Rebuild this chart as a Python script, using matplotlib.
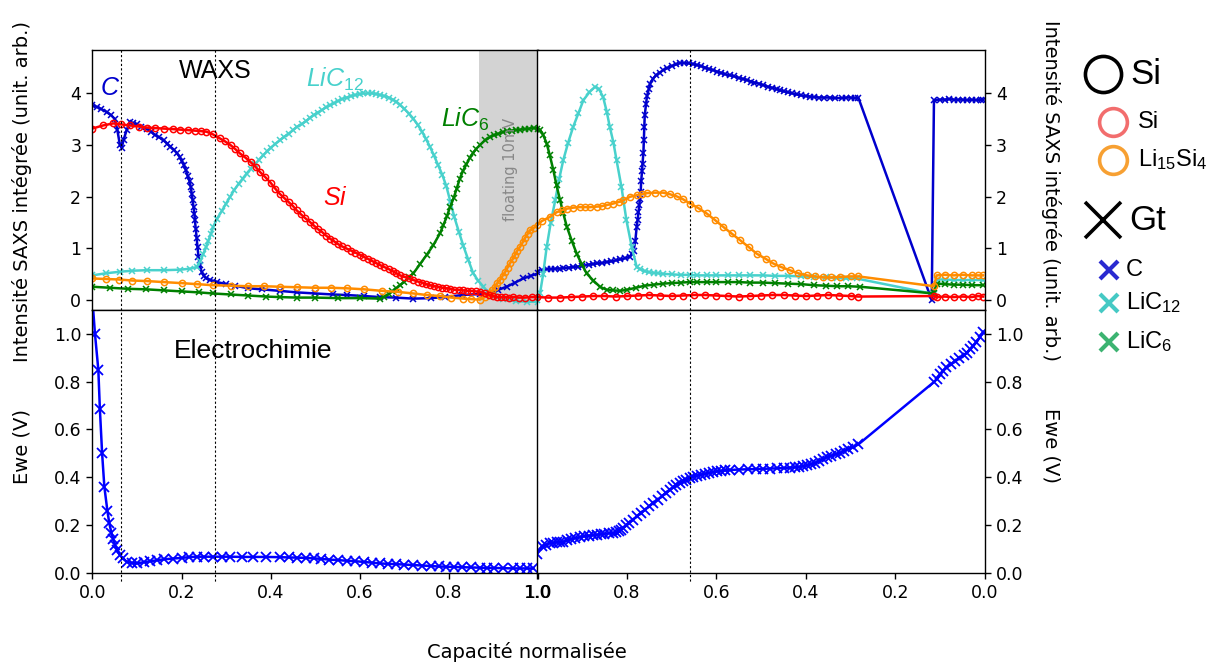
import matplotlib
matplotlib.use("Agg")
import matplotlib.pyplot as plt
from matplotlib.lines import Line2D
from matplotlib import transforms

plt.rcParams['font.family'] = 'DejaVu Sans'
plt.rcParams['mathtext.fontset'] = 'custom'
plt.rcParams['mathtext.rm'] = 'Liberation Sans'
plt.rcParams['mathtext.it'] = 'Liberation Sans:italic'

W, H = 1226, 662

# ---------------- WAXS, decharge (capacite 0 -> 1)
c_dis_x = [0, 0.01, 0.02, 0.032, 0.042, 0.05, 0.056, 0.062, 0.066, 0.07, 0.077, 0.084, 0.092,
           0.1, 0.11, 0.122, 0.132, 0.14, 0.15, 0.16, 0.168, 0.175, 0.183, 0.19, 0.196, 0.2,
           0.205, 0.21, 0.214, 0.218, 0.221, 0.223, 0.225, 0.227, 0.229, 0.23, 0.232, 0.234,
           0.236, 0.238, 0.241, 0.245, 0.25, 0.256, 0.265, 0.28, 0.3, 0.32, 0.35, 0.38, 0.42,
           0.46, 0.5, 0.54, 0.57, 0.61, 0.645, 0.68, 0.72, 0.76, 0.79, 0.83, 0.87, 0.892,
           0.91, 0.929, 0.948, 0.966, 0.983, 1.0]
c_dis_y = [3.77, 3.74, 3.7, 3.64, 3.58, 3.51, 3.3, 3.0, 2.95, 3.1, 3.29, 3.45, 3.42,
           3.4, 3.36, 3.32, 3.26, 3.2, 3.15, 3.09, 3.03, 2.97, 2.91, 2.84, 2.77, 2.7,
           2.62, 2.51, 2.4, 2.3, 2.18, 2.06, 1.93, 1.8, 1.67, 1.55, 1.38, 1.2,
           1.02, 0.84, 0.68, 0.55, 0.47, 0.42, 0.39, 0.35, 0.31, 0.28, 0.23, 0.21, 0.18,
           0.15, 0.13, 0.11, 0.1, 0.08, 0.06, 0.05, 0.03, 0.04, 0.06, 0.1, 0.12, 0.13,
           0.2, 0.26, 0.34, 0.42, 0.47, 0.52]

lic12_dis_x = [0, 0.03, 0.062, 0.09, 0.122, 0.16, 0.197, 0.22, 0.234, 0.242, 0.249, 0.255,
               0.26, 0.266, 0.271, 0.28, 0.29, 0.3, 0.309, 0.318, 0.328, 0.337, 0.346, 0.355,
               0.365, 0.374, 0.383, 0.392, 0.4, 0.41, 0.42, 0.43, 0.44, 0.45, 0.458, 0.47,
               0.48, 0.488, 0.496, 0.505, 0.515, 0.524, 0.533, 0.542, 0.55, 0.56, 0.57, 0.58,
               0.59, 0.6, 0.608, 0.618, 0.627, 0.636, 0.645, 0.655, 0.665, 0.674, 0.682,
               0.69, 0.7, 0.71, 0.72, 0.73, 0.74, 0.748, 0.757, 0.766, 0.775, 0.785, 0.794,
               0.803, 0.812, 0.822, 0.832, 0.843, 0.854, 0.865, 0.877, 0.888, 0.9, 0.92,
               0.95, 0.975, 1.0]
lic12_dis_y = [0.48, 0.52, 0.55, 0.57, 0.58, 0.58, 0.59, 0.61, 0.64, 0.75, 0.9, 1.02,
               1.15, 1.28, 1.42, 1.58, 1.72, 1.87, 2.0, 2.13, 2.25, 2.35, 2.45, 2.54,
               2.63, 2.72, 2.8, 2.88, 2.95, 3.02, 3.09, 3.16, 3.22, 3.29, 3.35, 3.41,
               3.47, 3.53, 3.58, 3.63, 3.68, 3.73, 3.77, 3.81, 3.85, 3.89, 3.92, 3.95,
               3.97, 3.99, 4.0, 4.0, 4.0, 3.99, 3.97, 3.95, 3.92, 3.88, 3.84,
               3.78, 3.7, 3.61, 3.51, 3.39, 3.25, 3.12, 2.97, 2.8, 2.62, 2.42, 2.2,
               1.9, 1.6, 1.32, 1.05, 0.78, 0.52, 0.38, 0.26, 0.15, 0.08, 0.02,
               -0.02, -0.03, -0.03]

lic6_dis_x = [0, 0.04, 0.08, 0.12, 0.16, 0.2, 0.24, 0.27, 0.31, 0.35, 0.39, 0.42, 0.46, 0.5,
              0.55, 0.6, 0.645, 0.655, 0.665, 0.673, 0.682, 0.69, 0.7, 0.71, 0.72, 0.735,
              0.75, 0.765, 0.78, 0.787, 0.795, 0.802, 0.81, 0.817, 0.824, 0.831, 0.839, 0.846,
              0.854, 0.861, 0.869, 0.88, 0.892, 0.9, 0.91, 0.92, 0.929, 0.94, 0.95, 0.96,
              0.97, 0.98, 0.99, 1.0]
lic6_dis_y = [0.26, 0.24, 0.22, 0.21, 0.19, 0.17, 0.15, 0.13, 0.11, 0.09, 0.07, 0.06, 0.05,
              0.05, 0.04, 0.04, 0.03, 0.07, 0.12, 0.17, 0.23, 0.29, 0.36, 0.44, 0.52, 0.7,
              0.88, 1.07, 1.3, 1.45, 1.62, 1.8, 1.97, 2.16, 2.35, 2.5, 2.63, 2.75,
              2.85, 2.93, 3.0, 3.09, 3.16, 3.19, 3.22, 3.25, 3.27, 3.28, 3.29, 3.3,
              3.31, 3.32, 3.33, 3.32]

si_dis_x = [0, 0.024, 0.047, 0.065, 0.085, 0.104, 0.122, 0.14, 0.16, 0.18, 0.197, 0.215,
            0.23, 0.244, 0.256, 0.27, 0.286, 0.298, 0.31, 0.321, 0.331, 0.343, 0.355, 0.366,
            0.376, 0.388, 0.4, 0.41, 0.42, 0.43, 0.44, 0.45, 0.458, 0.468, 0.477, 0.487,
            0.496, 0.505, 0.515, 0.524, 0.533, 0.542, 0.55, 0.56, 0.57, 0.58, 0.59, 0.6,
            0.608, 0.618, 0.627, 0.636, 0.645, 0.655, 0.665, 0.674, 0.682, 0.69, 0.7, 0.71,
            0.72, 0.73, 0.74, 0.748, 0.757, 0.766, 0.775, 0.785, 0.794, 0.803, 0.812, 0.822,
            0.832, 0.841, 0.85, 0.86, 0.869, 0.88, 0.89, 0.898, 0.907, 0.916, 0.925, 0.935,
            0.944, 0.957, 0.97, 0.985, 1.0]
si_dis_y = [3.32, 3.38, 3.42, 3.4, 3.38, 3.36, 3.34, 3.33, 3.32, 3.31, 3.3, 3.29,
            3.28, 3.27, 3.26, 3.21, 3.13, 3.07, 3.0, 2.92, 2.84, 2.76, 2.67, 2.58,
            2.48, 2.38, 2.27, 2.16, 2.06, 1.98, 1.9, 1.82, 1.74, 1.66, 1.59, 1.52,
            1.45, 1.38, 1.32, 1.25, 1.19, 1.14, 1.09, 1.04, 1.0, 0.96, 0.92, 0.88,
            0.84, 0.8, 0.76, 0.72, 0.68, 0.64, 0.6, 0.56, 0.52, 0.48, 0.45, 0.42,
            0.39, 0.36, 0.34, 0.31, 0.29, 0.27, 0.26, 0.24, 0.23, 0.22, 0.2, 0.2,
            0.19, 0.18, 0.18, 0.17, 0.16, 0.13, 0.1, 0.08, 0.06, 0.06, 0.06, 0.05,
            0.06, 0.05, 0.05, 0.06, 0.06]

li15_dis_x = [0, 0.03, 0.06, 0.09, 0.122, 0.16, 0.2, 0.235, 0.27, 0.31, 0.35, 0.385, 0.42,
              0.46, 0.5, 0.535, 0.57, 0.61, 0.65, 0.685, 0.72, 0.75, 0.78, 0.805, 0.832,
              0.85, 0.869, 0.88, 0.892, 0.897, 0.903, 0.908, 0.914, 0.92, 0.926, 0.931,
              0.937, 0.943, 0.948, 0.953, 0.959, 0.965, 0.97, 0.976, 0.981, 0.99, 1.0]
li15_dis_y = [0.42, 0.41, 0.4, 0.38, 0.37, 0.35, 0.33, 0.31, 0.29, 0.28, 0.27, 0.27, 0.26,
              0.25, 0.24, 0.24, 0.23, 0.21, 0.18, 0.16, 0.13, 0.1, 0.08, 0.05, 0.03,
              0.02, 0.01, 0.06, 0.13, 0.19, 0.26, 0.33, 0.39, 0.47, 0.55, 0.63,
              0.72, 0.8, 0.88, 0.96, 1.03, 1.12, 1.2, 1.28, 1.35, 1.4, 1.45]

# ---------------- WAXS, charge (capacite 1 -> 0)
c_ch_x = [1.0, 0.99, 0.979, 0.97, 0.96, 0.95, 0.942, 0.93, 0.92, 0.91, 0.9, 0.885, 0.875,
          0.867, 0.855, 0.845, 0.835, 0.825, 0.815, 0.805, 0.793, 0.789, 0.785, 0.781, 0.778,
          0.776, 0.774, 0.772, 0.771, 0.769, 0.768, 0.766, 0.765, 0.763, 0.762, 0.761, 0.76,
          0.757, 0.755, 0.751, 0.748, 0.742, 0.735, 0.727, 0.719, 0.71, 0.7, 0.69, 0.681,
          0.672, 0.662, 0.653, 0.644, 0.635, 0.625, 0.616, 0.607, 0.598, 0.59, 0.58, 0.57,
          0.56, 0.55, 0.54, 0.532, 0.523, 0.515, 0.505, 0.495, 0.485, 0.475, 0.465, 0.458,
          0.45, 0.44, 0.43, 0.421, 0.41, 0.4, 0.39, 0.383, 0.37, 0.36, 0.346, 0.335, 0.32,
          0.31, 0.3, 0.29, 0.283, 0.119, 0.114, 0.1, 0.09, 0.08, 0.07, 0.06, 0.05, 0.04,
          0.03, 0.02, 0.01, 0.004]
c_ch_y = [0.55, 0.58, 0.6, 0.6, 0.61, 0.61, 0.62, 0.63, 0.64, 0.65, 0.66, 0.69, 0.7,
          0.71, 0.72, 0.74, 0.75, 0.77, 0.79, 0.81, 0.84, 0.9, 0.95, 1.15, 1.42,
          1.55, 1.7, 1.85, 1.95, 2.1, 2.3, 2.5, 2.64, 2.85, 3.1, 3.35, 3.58,
          3.8, 3.95, 4.08, 4.19, 4.28, 4.35, 4.4, 4.45, 4.49, 4.53, 4.56, 4.59,
          4.59, 4.58, 4.57, 4.55, 4.53, 4.5, 4.47, 4.45, 4.42, 4.4, 4.37, 4.35,
          4.33, 4.3, 4.28, 4.26, 4.23, 4.21, 4.19, 4.16, 4.13, 4.11, 4.08, 4.06,
          4.04, 4.02, 4.0, 3.98, 3.96, 3.95, 3.94, 3.93, 3.92, 3.92, 3.92, 3.91, 3.91,
          3.92, 3.92, 3.91, 3.92, 0.0, 3.87, 3.88, 3.88, 3.89, 3.88, 3.88, 3.88, 3.87,
          3.88, 3.87, 3.88, 3.88]

lic12_ch_x = [1.0, 0.994, 0.987, 0.979, 0.97, 0.96, 0.951, 0.942, 0.931, 0.92, 0.908, 0.897,
              0.884, 0.871, 0.862, 0.853, 0.845, 0.838, 0.83, 0.823, 0.812, 0.801, 0.789,
              0.778, 0.77, 0.76, 0.75, 0.74, 0.73, 0.719, 0.7, 0.68, 0.66, 0.644, 0.62, 0.6,
              0.575, 0.55, 0.525, 0.495, 0.47, 0.44, 0.41, 0.383, 0.355, 0.33, 0.31, 0.287,
              0.115, 0.108, 0.09, 0.07, 0.05, 0.03, 0.004]
lic12_ch_y = [0.0, 0.13, 0.5, 1.03, 1.5, 1.93, 2.35, 2.71, 3.05, 3.35, 3.62, 3.87,
              4.02, 4.13, 4.08, 3.93, 3.65, 3.35, 3.05, 2.71, 2.19, 1.55, 1.03,
              0.64, 0.6, 0.56, 0.54, 0.53, 0.52, 0.51, 0.5, 0.49, 0.49, 0.48, 0.48, 0.48,
              0.48, 0.48, 0.48, 0.48, 0.47, 0.47, 0.46, 0.45, 0.44, 0.43, 0.42, 0.42,
              0.12, 0.4, 0.4, 0.39, 0.39, 0.39, 0.39]

lic6_ch_x = [1.0, 0.994, 0.987, 0.979, 0.972, 0.964, 0.957, 0.949, 0.942, 0.934, 0.923, 0.912,
             0.901, 0.89, 0.875, 0.86, 0.845, 0.83, 0.815, 0.8, 0.78, 0.76, 0.74, 0.719, 0.7,
             0.68, 0.66, 0.644, 0.62, 0.6, 0.575, 0.55, 0.525, 0.495, 0.47, 0.44, 0.41,
             0.383, 0.355, 0.33, 0.305, 0.279, 0.115, 0.108, 0.09, 0.07, 0.05, 0.03, 0.004]
lic6_ch_y = [3.32, 3.3, 3.2, 3.03, 2.8, 2.51, 2.22, 1.93, 1.68, 1.42, 1.15, 0.9,
             0.7, 0.52, 0.38, 0.26, 0.2, 0.19, 0.18, 0.2, 0.24, 0.28, 0.3, 0.32, 0.33,
             0.34, 0.35, 0.35, 0.35, 0.35, 0.35, 0.35, 0.34, 0.34, 0.33, 0.32, 0.31,
             0.29, 0.28, 0.27, 0.27, 0.26, 0.13, 0.32, 0.31, 0.3, 0.3, 0.29, 0.29]

si_ch_x = [1.0, 0.975, 0.95, 0.925, 0.9, 0.875, 0.85, 0.825, 0.8, 0.775, 0.75, 0.725, 0.7,
           0.675, 0.65, 0.625, 0.6, 0.575, 0.55, 0.525, 0.5, 0.475, 0.45, 0.425, 0.4, 0.375,
           0.35, 0.325, 0.3, 0.283, 0.114, 0.108, 0.09, 0.07, 0.05, 0.03, 0.015, 0.004]
si_ch_y = [0.06, 0.05, 0.05, 0.06, 0.07, 0.08, 0.08, 0.07, 0.08, 0.09, 0.1, 0.09, 0.08,
           0.09, 0.1, 0.1, 0.09, 0.08, 0.07, 0.08, 0.09, 0.1, 0.1, 0.09, 0.08, 0.09,
           0.1, 0.09, 0.08, 0.07, 0.08, 0.06, 0.07, 0.06, 0.07, 0.06, 0.08, 0.07]

li15_ch_x = [1.0, 0.99, 0.972, 0.957, 0.945, 0.934, 0.92, 0.905, 0.893, 0.882, 0.867, 0.855,
             0.845, 0.83, 0.818, 0.808, 0.793, 0.778, 0.767, 0.756, 0.738, 0.719, 0.704,
             0.689, 0.674, 0.659, 0.64, 0.622, 0.603, 0.585, 0.566, 0.547, 0.528, 0.51, 0.49,
             0.473, 0.455, 0.436, 0.417, 0.398, 0.38, 0.361, 0.343, 0.324, 0.3, 0.283, 0.114,
             0.108, 0.09, 0.07, 0.05, 0.03, 0.015, 0.004]
li15_ch_y = [1.45, 1.53, 1.61, 1.7, 1.74, 1.77, 1.79, 1.8, 1.8, 1.8, 1.81, 1.82,
             1.84, 1.87, 1.9, 1.93, 2.0, 2.03, 2.05, 2.07, 2.08, 2.08, 2.05,
             2.01, 1.95, 1.87, 1.78, 1.68, 1.55, 1.42, 1.29, 1.16, 1.03, 0.9, 0.8,
             0.71, 0.64, 0.58, 0.52, 0.48, 0.46, 0.44, 0.44, 0.45, 0.46, 0.46, 0.27,
             0.48, 0.49, 0.48, 0.49, 0.48, 0.48, 0.48]

# ---------------- Electrochimie
ewe_dis_x = [0, 0.006, 0.0135, 0.017, 0.022, 0.027, 0.034, 0.038, 0.043, 0.047, 0.051, 0.056,
             0.062, 0.068, 0.077, 0.088, 0.1, 0.115, 0.13, 0.145, 0.16, 0.18, 0.2, 0.217,
             0.234, 0.25, 0.27, 0.29, 0.309, 0.335, 0.36, 0.39, 0.42, 0.44, 0.46, 0.48,
             0.496, 0.513, 0.53, 0.55, 0.57, 0.59, 0.61, 0.627, 0.645, 0.662, 0.68, 0.7,
             0.72, 0.74, 0.76, 0.777, 0.794, 0.81, 0.83, 0.85, 0.869, 0.885, 0.9, 0.92,
             0.944, 0.96, 0.975, 0.989]
ewe_dis_y = [1.15, 1.0, 0.85, 0.685, 0.5, 0.36, 0.257, 0.208, 0.166, 0.14, 0.116, 0.095,
             0.074, 0.06, 0.046, 0.041, 0.039, 0.044, 0.048, 0.052, 0.056, 0.059, 0.062, 0.065,
             0.067, 0.067, 0.067, 0.067, 0.067, 0.066, 0.066, 0.066, 0.065, 0.064, 0.063, 0.062,
             0.06, 0.058, 0.055, 0.053, 0.05, 0.048, 0.045, 0.042, 0.039, 0.037, 0.036, 0.034,
             0.032, 0.03, 0.028, 0.026, 0.025, 0.024, 0.023, 0.022, 0.021, 0.02, 0.02, 0.019,
             0.018, 0.018, 0.018, 0.018]

ewe_ch_x = [1.0, 0.99, 0.98, 0.972, 0.964, 0.957, 0.95, 0.942, 0.933, 0.925, 0.915, 0.905,
            0.895, 0.885, 0.876, 0.867, 0.858, 0.85, 0.84, 0.83, 0.824, 0.818, 0.813, 0.808,
            0.801, 0.795, 0.786, 0.778, 0.769, 0.76, 0.75, 0.741, 0.731, 0.722, 0.713, 0.704,
            0.697, 0.69, 0.682, 0.674, 0.667, 0.66, 0.652, 0.644, 0.635, 0.625, 0.616, 0.607,
            0.598, 0.59, 0.58, 0.57, 0.55, 0.53, 0.512, 0.495, 0.48, 0.465, 0.45, 0.436,
            0.425, 0.415, 0.406, 0.398, 0.389, 0.38, 0.37, 0.361, 0.352, 0.343, 0.333,
            0.324, 0.314, 0.305, 0.294, 0.283, 0.115, 0.108, 0.1, 0.093, 0.086, 0.076,
            0.067, 0.057, 0.048, 0.04, 0.033, 0.026, 0.019, 0.012, 0.004]
ewe_ch_y = [0.08, 0.11, 0.118, 0.124, 0.126, 0.127, 0.128, 0.13, 0.135, 0.14, 0.145, 0.149,
            0.152, 0.155, 0.157, 0.159, 0.161, 0.163, 0.165, 0.166, 0.17, 0.175, 0.18, 0.187,
            0.198, 0.21, 0.222, 0.236, 0.25, 0.263, 0.278, 0.292, 0.306, 0.32, 0.334, 0.348,
            0.357, 0.367, 0.375, 0.383, 0.39, 0.396, 0.402, 0.407, 0.411, 0.415, 0.418, 0.421,
            0.424, 0.426, 0.428, 0.43, 0.432, 0.433, 0.434, 0.435, 0.436, 0.437, 0.438, 0.44,
            0.441, 0.443, 0.446, 0.449, 0.454, 0.46, 0.468, 0.477, 0.484, 0.49, 0.496,
            0.502, 0.51, 0.518, 0.527, 0.537, 0.797, 0.81, 0.83, 0.845, 0.86, 0.872,
            0.885, 0.897, 0.91, 0.922, 0.935, 0.95, 0.966, 0.985, 1.008]

vlines_dis = [0.064, 0.276]
vlines_ch = [0.66]
floating = (0.868, 1.0)

xticks = [0, 0.2, 0.4, 0.6, 0.8, 1.0]
yticks_waxs = [0, 1, 2, 3, 4]
yticks_ewe = [0, 0.2, 0.4, 0.6, 0.8, 1.0]

C_BLUE = 'mediumblue'
C_CYAN = 'mediumturquoise'
C_GREEN = 'green'
C_RED = 'red'
C_ORANGE = 'darkorange'

xkw = dict(marker='x', ms=4, mew=1.1, lw=1.8)
okw = dict(marker='o', ms=4.5, mew=1.1, lw=1.8, mfc='none')


def plot_waxs(ax, c, l12, l6, li15, si):
    ax.plot(*c, color=C_BLUE, **xkw)
    ax.plot(*l12, color=C_CYAN, **xkw)
    ax.plot(*l6, color=C_GREEN, **xkw)
    ax.plot(*li15, color=C_ORANGE, **okw)
    ax.plot(*si, color=C_RED, **okw)
    ax.set_ylim(-0.19, 4.84)
    ax.set_yticks(yticks_waxs)
    ax.tick_params(axis='x', bottom=False, labelbottom=False)


def plot_ewe(ax, x, y):
    ax.plot(x, y, color='blue', marker='x', ms=7, mew=1.3, lw=1.8)
    ax.set_ylim(0, 1.1)
    ax.set_yticks(yticks_ewe)
    ax.set_yticklabels(['%.1f' % t for t in yticks_ewe])
    ax.set_xticks(xticks)
    ax.set_xticklabels(['%.1f' % t for t in xticks])


fig = plt.figure(figsize=(W / 100, H / 100), dpi=100)
ax_tl = fig.add_axes([92.3 / W, 1 - 310 / H, 446 / W, 260 / H])
ax_tr = fig.add_axes([537.3 / W, 1 - 310 / H, 447.7 / W, 260 / H])
ax_bl = fig.add_axes([92.3 / W, 1 - 572.7 / H, 446 / W, 262.7 / H])
ax_br = fig.add_axes([537.3 / W, 1 - 572.7 / H, 447.7 / W, 262.7 / H])

ax_tl.axvspan(*floating, color='lightgrey', lw=0, zorder=0)
ax_tl.text(0.937, 2.52, 'floating 10mV', rotation=90, color='#888888', fontsize=10.5,
           ha='center', va='center')

plot_waxs(ax_tl, (c_dis_x, c_dis_y), (lic12_dis_x, lic12_dis_y), (lic6_dis_x, lic6_dis_y),
          (li15_dis_x, li15_dis_y), (si_dis_x, si_dis_y))
plot_waxs(ax_tr, (c_ch_x, c_ch_y), (lic12_ch_x, lic12_ch_y), (lic6_ch_x, lic6_ch_y),
          (li15_ch_x, li15_ch_y), (si_ch_x, si_ch_y))
plot_ewe(ax_bl, ewe_dis_x, ewe_dis_y)
plot_ewe(ax_br, ewe_ch_x, ewe_ch_y)

for ax in (ax_tl, ax_bl):
    ax.set_xlim(0, 1)
for ax in (ax_tr, ax_br):
    ax.set_xlim(1, 0)
    ax.yaxis.tick_right()

for ax in (ax_tl, ax_tr, ax_bl, ax_br):
    ax.tick_params(labelsize=12.5, length=4.5, width=1, direction='out')
    for s in ax.spines.values():
        s.set_linewidth(1)

# annotations
ann = dict(fontsize=18, family='Liberation Sans')
ax_tl.text(0.017, 3.97, '$C$', color=C_BLUE, **ann)
ax_tl.text(0.195, 4.29, 'WAXS', color='black', **ann)
ax_tl.text(0.48, 4.13, '$LiC_{12}$', color=C_CYAN, **ann)
ax_tl.text(0.781, 3.35, '$LiC_6$', color=C_GREEN, **ann)
ax_tl.text(0.517, 1.84, '$Si$', color=C_RED, **ann)
ax_bl.text(0.184, 0.898, 'Electrochimie', fontsize=19, family='Liberation Sans')

# dotted guide lines through both rows
for ax, xs in ((ax_tl, vlines_dis), (ax_tr, vlines_ch)):
    tr = transforms.blended_transform_factory(ax.transData, fig.transFigure)
    for xv in xs:
        fig.add_artist(Line2D([xv, xv], [1 - 50 / H, 1 - 583 / H], transform=tr,
                              color='black', lw=0.8, ls=(0, (2, 2))))

# axis labels
lab = dict(fontsize=14, ha='center', va='center')
fig.text(22 / W, 1 - 191 / H, 'Intensité SAXS intégrée (unit. arb.)', rotation=90, **lab)
fig.text(1051 / W, 1 - 190 / H, 'Intensité SAXS intégrée (unit. arb.)', rotation=270, **lab)
fig.text(22 / W, 1 - 447 / H, 'Ewe (V)', rotation=90, **lab)
fig.text(1051 / W, 1 - 445 / H, 'Ewe (V)', rotation=270, **lab)
fig.text(527 / W, 1 - 652 / H, 'Capacité normalisée', **lab)


# hand made legend on the right
def key(xp, yp, **kw):
    fig.add_artist(Line2D([xp / W], [1 - yp / H], transform=fig.transFigure, lw=0, **kw))


def key_text(xp, yp, s, size):
    fig.text(xp / W, 1 - yp / H, s, fontsize=size, family='Liberation Sans',
             ha='left', va='center')


key(1103, 74, marker='o', ms=26, mfc='none', mec='black', mew=2.6)
key_text(1130, 74, 'Si', 25)
key(1113, 122, marker='o', ms=20, mfc='none', mec='#f26d6d', mew=2.6)
key_text(1138, 122, 'Si', 17)
key(1113, 160, marker='o', ms=20, mfc='none', mec='#f7a032', mew=2.6)
key_text(1138, 160, 'Li$_{15}$Si$_4$', 17)
key(1103, 220, marker='x', ms=26, mec='black', mew=2.6)
key_text(1129, 220, 'Gt', 25)
key(1109, 270, marker='x', ms=13, mec='#2a2ad0', mew=3)
key_text(1126, 270, 'C', 17)
key(1109, 303, marker='x', ms=13, mec='#45c9c4', mew=3)
key_text(1126, 303, 'LiC$_{12}$', 17)
key(1109, 342, marker='x', ms=13, mec='#3cb371', mew=3)
key_text(1126, 342, 'LiC$_6$', 17)

fig.savefig('out.png', dpi=100)
